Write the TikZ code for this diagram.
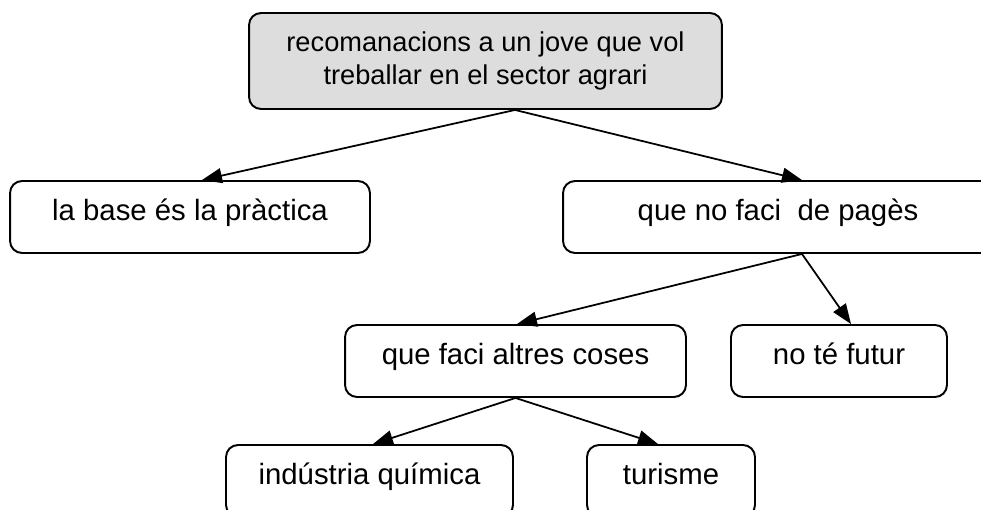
\documentclass[tikz,border=0pt]{standalone}
\usepackage{fontspec}
\setmainfont{Liberation Sans}
\usepackage{xcolor}
\usetikzlibrary{arrows.meta}
\definecolor{boxgray}{RGB}{221,221,221}

\begin{document}
\begin{tikzpicture}[
      x=0.02cm, y=-0.02cm,
      arr/.style={-{Triangle[length=0.4cm, width=0.3cm]}, line width=1pt},
      concept/.style={draw, line width=1.1pt, rounded corners=0.24cm,
        align=center, inner sep=0pt, minimum height=1.44cm,
        font=\fontsize{16.7}{19.3}\selectfont},
      leaf/.style={concept, text height=0.75em, text depth=0.4em}
    ]

    \useasboundingbox (0,0) rectangle (981,510);
    \clip (0,0) rectangle (981,510);

    % ══ TOP: main question ═══════════════════════════════════════════════════
    \node[concept, fill=boxgray, minimum width=9.46cm, minimum height=1.92cm,
        font=\fontsize{15.5}{19.3}\selectfont]
      (recom) at (485.5,61)
      {recomanacions a un jove que vol\\treballar en el sector agrari};

    % ══ ROW 1 ════════════════════════════════════════════════════════════════
    \node[leaf, minimum width=7.2cm] (base) at (190,217)
      {la base és la pràctica};
    \node[leaf, minimum width=8.6cm] (nopages) at (778,217)
      {que no faci\ \ de pagès};

    % ══ ROW 2 ════════════════════════════════════════════════════════════════
    \node[leaf, minimum width=6.82cm] (altres) at (515.5,361)
      {que faci altres coses};
    \node[leaf, minimum width=4.32cm] (futur) at (839,361)
      {no té futur};

    % ══ ROW 3 ════════════════════════════════════════════════════════════════
    \node[leaf, minimum width=5.74cm] (quimica) at (369.5,481)
      {indústria química};
    \node[leaf, minimum width=3.36cm] (turisme) at (671,481)
      {turisme};

    % connectors
    \draw[arr] ([xshift=0.59cm]recom.south) -- ([xshift=0.24cm]base.north);
    \draw[arr] ([xshift=0.59cm]recom.south) -- ([xshift=0.48cm]nopages.north);
    \draw[arr] ([xshift=0.48cm]nopages.south) -- ([xshift=0.03cm]altres.north);
    \draw[arr] ([xshift=0.48cm]nopages.south) -- ([xshift=0.24cm]futur.north);
    \draw[arr] (altres.south) -- ([xshift=0.07cm]quimica.north);
    \draw[arr] (altres.south) -- ([xshift=-0.26cm]turisme.north);

  \end{tikzpicture}
\end{document}
